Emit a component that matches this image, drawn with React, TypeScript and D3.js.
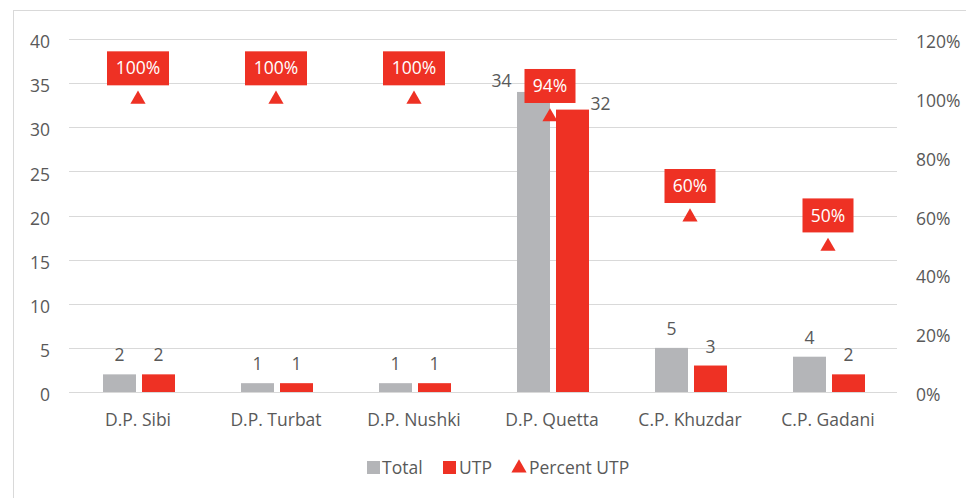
import React from "react";
import * as d3 from "d3";

const categories = ["D.P. Sibi", "D.P. Turbat", "D.P. Nushki", "D.P. Quetta", "C.P. Khuzdar", "C.P. Gadani"];
const totalValues = [2, 1, 1, 34, 5, 4];
const utpValues = [2, 1, 1, 32, 3, 2];
const percentUtp = [1.0, 1.0, 1.0, 0.94, 0.6, 0.5];
const leftTicks = [0, 5, 10, 15, 20, 25, 30, 35, 40];
const rightTicks = [0, 0.2, 0.4, 0.6, 0.8, 1.0, 1.2];

const W = 966, H = 498;
const GRAY = "#b4b5b8";
const RED = "#ee3124";
const TXT = "#595959";
const FONT = "'Open Sans', Lato, sans-serif";
const FS = 17.5;

export default function App() {
  const x = d3.scaleBand<string>().domain(categories).range([69, 897]);
  const y = d3.scaleLinear().domain([0, 40]).range([392, 39]);
  const y2 = d3.scaleLinear().domain([0, 1.2]).range([392, 39]);
  const bw = 33;
  const cx = (c: string) => (x(c) as number) + x.bandwidth() / 2;
  const tri = d3.symbol().type(d3.symbolTriangle).size(100);
  const pctFmt = d3.format(".0%");

  // label offsets where the picture's labels were moved aside
  const totalLabelDx = [0, 0, 0, -32, 0, 0];
  const totalLabelDy = [0, 0, 0, 8, 0, 0];
  const utpLabelDx = [0, 0, 0, 28, 0, 0];
  const utpLabelDy = [0, 0, 0, 13, 0, 0];

  return (
    <svg width={W} height={H} style={{ position: "absolute", left: 0, top: 0 }} fontFamily={FONT}>
      <rect x={13.5} y={10.5} width={W} height={H} fill="#fff" stroke="#d9d9d9" />
      {leftTicks.map((t) => (
        <g key={t}>
          <line x1={69} x2={897} y1={Math.round(y(t)) + 0.5} y2={Math.round(y(t)) + 0.5} stroke="#d9d9d9" strokeWidth={1} />
          <text x={50} y={y(t) + 3} dy="0.35em" textAnchor="end" fontSize={FS} fill={TXT}>{t}</text>
        </g>
      ))}
      {rightTicks.map((t) => (
        <text key={t} x={916} y={y2(t) + 3} dy="0.35em" textAnchor="start" fontSize={FS} fill={TXT}>{pctFmt(t)}</text>
      ))}
      {categories.map((c, i) => {
        const c0 = cx(c);
        const gx = c0 - 35;
        const rx = c0 + 4;
        return (
          <g key={c}>
            <rect x={gx} y={y(totalValues[i])} width={bw} height={y(0) - y(totalValues[i])} fill={GRAY} />
            <rect x={rx} y={y(utpValues[i])} width={bw} height={y(0) - y(utpValues[i])} fill={RED} />
            <text x={gx + bw / 2 + totalLabelDx[i]} y={y(totalValues[i]) - 13 + totalLabelDy[i]} textAnchor="middle" fontSize={FS} fill={TXT}>{totalValues[i]}</text>
            <text x={rx + bw / 2 + utpLabelDx[i]} y={y(utpValues[i]) - 13 + utpLabelDy[i]} textAnchor="middle" fontSize={FS} fill={TXT}>{utpValues[i]}</text>
            <text x={c0} y={420} dy="0.35em" textAnchor="middle" fontSize={FS} fill={TXT}>{c}</text>
          </g>
        );
      })}
      {categories.map((c, i) => {
        const c0 = cx(c) - (i === 3 ? 2 : 0);
        const py = y2(percentUtp[i]) + 1.5;
        const label = pctFmt(percentUtp[i]);
        const bwid = label.length === 4 ? 62 : 51;
        return (
          <g key={"p" + c}>
            <path d={tri() as string} transform={`translate(${c0},${py})`} fill={RED} />
            <rect x={c0 - bwid / 2} y={py - 48} width={bwid} height={34} fill={RED} />
            <text x={c0} y={py - 31} dy="0.35em" textAnchor="middle" fontSize={FS} fill="#fff">{label}</text>
          </g>
        );
      })}
      <g fontSize={FS} fill={TXT}>
        <rect x={367} y={461} width={13} height={13} fill={GRAY} />
        <text x={382} y={468} dy="0.35em">Total</text>
        <rect x={443} y={461} width={13} height={13} fill={RED} />
        <text x={459} y={468} dy="0.35em">UTP</text>
        <path d={tri() as string} transform="translate(519,468)" fill={RED} />
        <text x={529} y={468} dy="0.35em">Percent UTP</text>
      </g>
    </svg>
  );
}
